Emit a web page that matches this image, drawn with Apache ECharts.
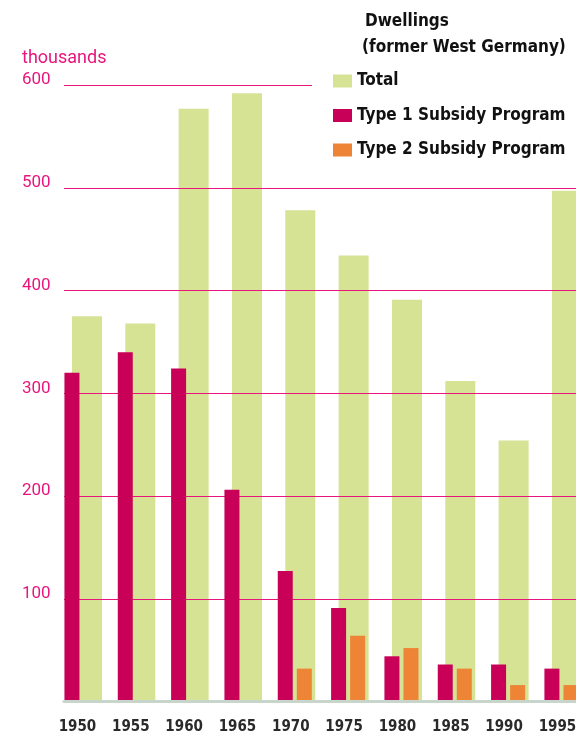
<!DOCTYPE html>
<html>
<head>
<meta charset="utf-8">
<script src="https://cdn.jsdelivr.net/npm/echarts@6/dist/echarts.min.js"></script>
<style>
  html, body { margin: 0; padding: 0; background: #fff; }
  #chart { width: 576px; height: 737px; }
</style>
</head>
<body>
<div id="chart"></div>
<script>
(() => {

    // 年份
    var years = ['1950', '1955', '1960', '1965', '1970', '1975', '1980', '1985', '1990', '1995'];
    // 住宅总数（千）
    var totalValues = [375, 368, 577, 592, 478, 434, 391, 312, 254, 497];
    // 第一类补贴
    var type1Values = [320, 340, 324, 206, 127, 91, 44, 36, 36, 32];
    // 第二类补贴
    var type2Values = [null, null, null, null, 32, 64, 52, 32, 16, 16];

    var pink = '#e8157e';
    var narrow = '"Liberation Sans Narrow", "DejaVu Sans Condensed", "Liberation Sans", sans-serif';

    // 柱状区域
    var top = 85, bottom = 35.5, bandW = 53.33;

    let option = {
        animation: false,
        title: [{
            text: 'thousands',
            left: 22,
            top: 49,
            padding: 0,
            textStyle: { color: pink, fontSize: 18, fontWeight: 'normal', fontFamily: 'Roboto' }
        }, {
            text: 'Dwellings',
            left: 365,
            top: 13,
            padding: 0,
            textStyle: { color: '#111', fontSize: 17, fontWeight: 'bold', fontFamily: narrow }
        }, {
            text: '(former West Germany)',
            left: 362,
            top: 39,
            padding: 0,
            textStyle: { color: '#111', fontSize: 17, fontWeight: 'bold', fontFamily: narrow }
        }],
        legend: {
            orient: 'vertical',
            left: 333,
            top: 71,
            padding: 0,
            itemWidth: 19,
            itemHeight: 13,
            itemGap: 14.5,
            icon: 'rect',
            textStyle: { color: '#111', fontSize: 17, fontWeight: 'bold', fontFamily: narrow, lineHeight: 20 },
            data: ['Total', 'Type 1 Subsidy Program', 'Type 2 Subsidy Program']
        },
        grid: [
            // 总数
            { left: 60.3, width: bandW * 10, top: top, bottom: bottom, outerBoundsMode: 'none' },
            // 补贴
            { left: 54.8, width: bandW * 10, top: top, bottom: bottom, outerBoundsMode: 'none' },
            // 网格线 + 基线
            { left: 64, right: 0, top: top, bottom: bottom, outerBoundsMode: 'none' },
            // 600 线
            { left: 64, width: 248, top: top, bottom: bottom, outerBoundsMode: 'none' }
        ],
        xAxis: [{
            gridIndex: 0, type: 'category', data: years, show: false
        }, {
            gridIndex: 1, type: 'category', data: years,
            axisLine: { show: false }, axisTick: { show: false },
            axisLabel: {
                interval: 0, margin: 18, color: '#2a2a2a', fontSize: 15, fontWeight: 'bold',
                fontFamily: narrow, padding: [0, 8, 0, 0]
            }
        }, {
            gridIndex: 2, type: 'value', min: 0, max: 1, z: 4,
            axisLine: { show: true, lineStyle: { color: '#c8d5ca', width: 3 } },
            axisTick: { show: false }, axisLabel: { show: false }, splitLine: { show: false }
        }, {
            gridIndex: 3, type: 'value', min: 0, max: 1, show: false
        }],
        yAxis: [{
            gridIndex: 0, type: 'value', min: 0, max: 600, show: false
        }, {
            gridIndex: 1, type: 'value', min: 0, max: 600, show: false
        }, {
            gridIndex: 2, type: 'value', min: 0, max: 600, interval: 100, z: 2,
            axisLine: { show: false }, axisTick: { show: false },
            axisLabel: {
                showMinLabel: false, align: 'left', margin: 42, verticalAlign: 'bottom',
                color: pink, fontSize: 17, fontFamily: 'Roboto', lineHeight: 10
            },
            splitLine: { show: true, showMinLine: false, showMaxLine: false, lineStyle: { color: pink, width: 1 } }
        }, {
            gridIndex: 3, type: 'value', min: 0, max: 600, interval: 600, z: 2,
            axisLine: { show: false }, axisTick: { show: false }, axisLabel: { show: false },
            splitLine: { show: true, showMinLine: false, lineStyle: { color: pink, width: 1 } }
        }],
        series: [{
            name: 'Total',
            type: 'bar',
            xAxisIndex: 0, yAxisIndex: 0,
            z: 1,
            barWidth: 30,
            itemStyle: { color: '#d6e294' },
            data: totalValues
        }, {
            name: 'Type 1 Subsidy Program',
            type: 'bar',
            xAxisIndex: 1, yAxisIndex: 1,
            z: 3,
            barWidth: 15,
            barGap: '27%',
            itemStyle: { color: '#c80058' },
            data: type1Values
        }, {
            name: 'Type 2 Subsidy Program',
            type: 'bar',
            xAxisIndex: 1, yAxisIndex: 1,
            z: 3,
            barWidth: 15,
            barGap: '27%',
            itemStyle: { color: '#ee8436' },
            data: type2Values
        }]
    };

    var myChart = echarts.init(document.getElementById('chart'));
    myChart.setOption(option);

})();
</script>
</body>
</html>
